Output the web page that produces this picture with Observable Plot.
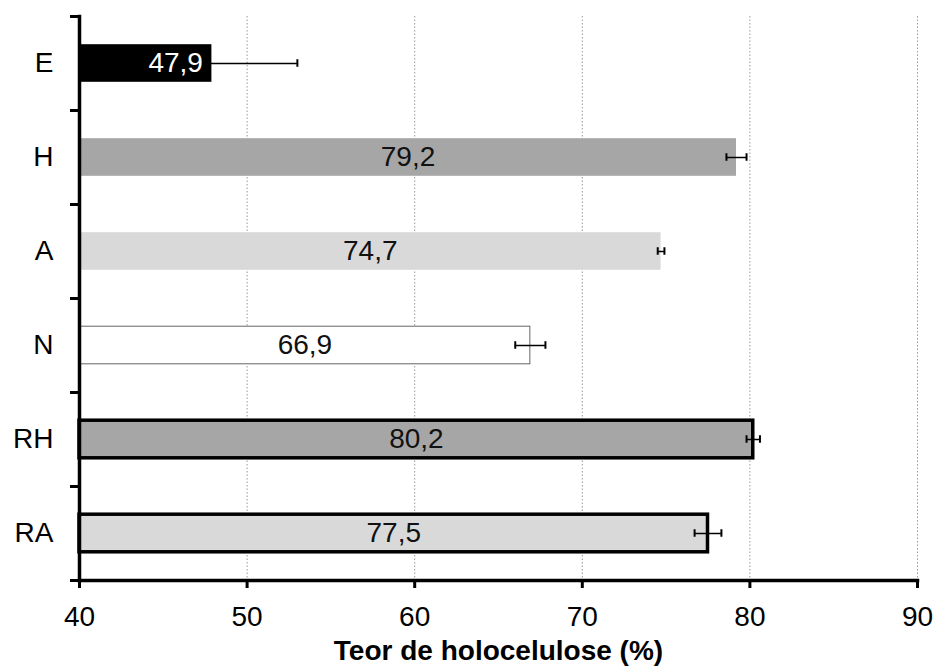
<!DOCTYPE html>
<html>
<head>
<meta charset="utf-8">
<script src="https://cdn.jsdelivr.net/npm/d3@7"></script>
<script src="https://cdn.jsdelivr.net/npm/@observablehq/plot@0.6"></script>
<style>
  html, body { margin: 0; padding: 0; background: #fff; }
  #chart svg { font-family: "Liberation Sans", Arial, sans-serif; }
</style>
</head>
<body>
<div id="chart"></div>
<script>
// ---- data ----
const categories = ["E", "H", "A", "N", "RH", "RA"];
const values = [47.9, 79.2, 74.7, 66.9, 80.2, 77.5];
const errors = [5.1, 0.6, 0.2, 0.9, 0.4, 0.8];
const xTicks = [40, 50, 60, 70, 80, 90];
const xTitle = "Teor de holocelulose (%)";

// ---- build table ----
const xMin = xTicks[0], xMax = xTicks[xTicks.length - 1];
const data = categories.map((c, i) => ({
  cat: c, i, value: values[i], err: errors[i],
  label: values[i].toFixed(1).replace(".", ",")
}));
const half = 0.2;   // half bar thickness in band units
const cap = 0.04;   // half error cap length
const boundaries = d3.range(categories.length + 1).map(i => i - 0.5);
const caps = data.flatMap(d => [
  {i: d.i, x: d.value - d.err},
  {i: d.i, x: d.value + d.err}
]);

const fs = 28;

const chart = Plot.plot({
  width: 935,
  height: 666,
  marginTop: 16,
  marginBottom: 86,
  marginLeft: 79,
  marginRight: 18,
  x: {domain: [xMin, xMax]},
  y: {domain: [boundaries[0], boundaries[boundaries.length - 1]], reverse: true},
  color: {
    domain: categories,
    range: ["#000000", "#a6a6a6", "#d9d9d9", "#ffffff", "#a6a6a6", "#d9d9d9"]
  },
  marks: [
    Plot.gridX(xTicks.slice(1), {stroke: "#999", strokeOpacity: 1, strokeWidth: 1, strokeDasharray: "1.5,2"}),
    // plain bars
    Plot.rectX(data.filter(d => ["E", "H", "A"].includes(d.cat)), {
      x1: () => xMin, x2: "value", y1: d => d.i - half, y2: d => d.i + half, fill: "cat"
    }),
    // thin outlined bar
    Plot.rectX(data.filter(d => d.cat === "N"), {
      x1: () => xMin, x2: "value", y1: d => d.i - half, y2: d => d.i + half, fill: "cat",
      stroke: "#666", strokeWidth: 1
    }),
    // thick outlined bars
    Plot.rectX(data.filter(d => d.cat === "RH" || d.cat === "RA"), {
      x1: () => xMin, x2: "value", y1: d => d.i - half, y2: d => d.i + half, fill: "cat",
      stroke: "#000", strokeWidth: 3.5
    }),
    // error bars
    Plot.ruleY(data, {y: "i", x1: d => d.value - d.err, x2: d => d.value + d.err, stroke: "#000", strokeWidth: 1.5}),
    Plot.ruleX(caps, {x: "x", y1: d => d.i - cap, y2: d => d.i + cap, stroke: "#000", strokeWidth: 2}),
    // value labels
    Plot.text(data.filter(d => d.cat !== "E"), {
      x: d => (xMin + d.value) / 2, y: "i", text: "label", fontSize: fs, fill: "#111"
    }),
    Plot.text(data.filter(d => d.cat === "E"), {
      x: "value", y: "i", text: "label", fontSize: fs, fill: "#fff", textAnchor: "end", dx: -9
    }),
    // axes
    Plot.frame({anchor: "left", stroke: "#000", strokeWidth: 3.5}),
    Plot.frame({anchor: "bottom", stroke: "#000", strokeWidth: 3.5}),
    Plot.axisX({ticks: xTicks, tickSize: 8, tickPadding: 18, fontSize: fs, strokeWidth: 3, label: null, stroke: "#000"}),
    Plot.axisY({ticks: data.map(d => d.i), tickFormat: i => categories[i], tickSize: 0, tickPadding: 26, fontSize: fs, label: null}),
    Plot.axisY({ticks: boundaries, tickFormat: () => "", tickSize: 9, strokeWidth: 3, stroke: "#000", label: null}),
    Plot.text([xTitle], {frameAnchor: "bottom", text: d => d, dy: 79, lineAnchor: "bottom", fontSize: fs, fontWeight: "bold", fill: "#000"})
  ]
});
document.getElementById("chart").appendChild(chart);
</script>
</body>
</html>
